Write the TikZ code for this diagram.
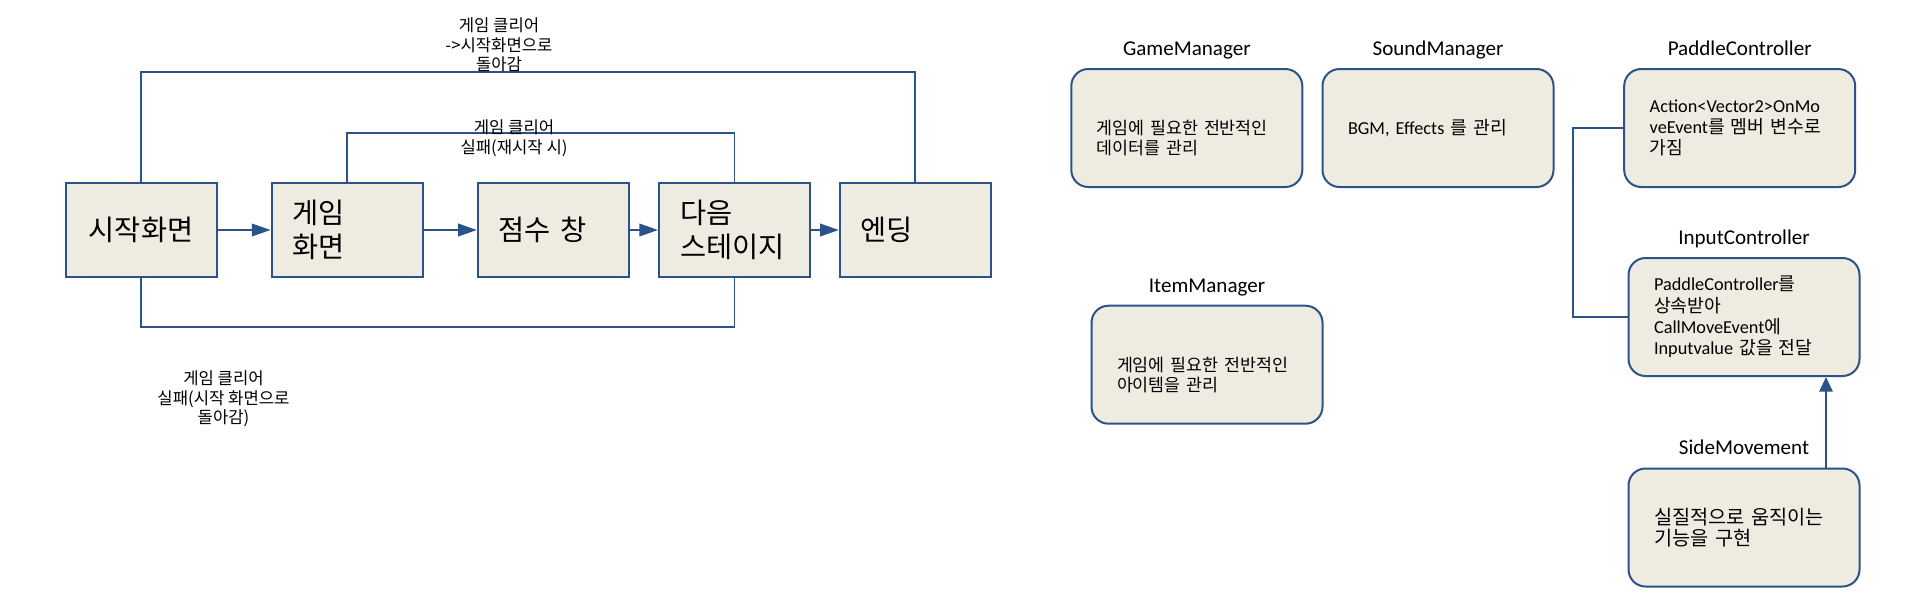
\documentclass[tikz,border=0pt]{standalone}
\usepackage{fontspec}
\setmainfont{Carlito}
\newfontfamily\kr{Noto Sans CJK KR}
\usetikzlibrary{arrows.meta, positioning}
\definecolor{flowblue}{HTML}{2B5289}
\definecolor{flowfill}{HTML}{EEECE1}

\begin{document}
\begin{tikzpicture}[x=0.75pt, y=-0.75pt,
		stage/.style={draw=flowblue, line width=1.5pt, fill=flowfill, inner sep=0pt,
			minimum width=113.25pt, minimum height=70.5pt, text width=81.75pt, align=left,
			font=\kr\fontsize{21.3}{25.5}\selectfont},
		mgr/.style={draw=flowblue, line width=1.5pt, fill=flowfill, rounded corners=12.75pt, inner sep=0pt,
			minimum width=173.25pt, minimum height=88.5pt, text width=135pt, align=left,
			font=\fontsize{13.7}{16}\selectfont},
		mgrtitle/.style={inner sep=0pt, text height=14pt, text depth=4pt, font=\fontsize{15.8}{19}\selectfont},
		note/.style={align=center, inner sep=0pt, font=\kr\fontsize{12.5}{14.7}\selectfont},
		flow/.style={draw=flowblue, line width=1.2pt, -{Triangle[length=14pt, width=9.5pt]}},
		link/.style={draw=flowblue, line width=1.4pt}]
		\useasboundingbox (0,0) rectangle (1920,604);
		% scene flow
		\node[stage, align=center] (start) at (141,230) {시작화면};
		\node[stage] (game) at (347,230) {게임\\화면};
		\node[stage] (score) at (553.3,230) {점수 창};
		\node[stage] (next) at (734.5,230) {다음\\스테이지};
		\node[stage] (ending) at (915.3,230) {엔딩};
		\foreach \a/\b in {start/game, game/score, score/next, next/ending} {
			\draw[flow] (\a) -- (\b);
		}
		% loops back
		\coordinate (outerrail) at (0,71.7);
		\coordinate (innerrail) at (0,133);
		\coordinate (lowerrail) at (0,326.7);
		\draw[link] (start.north) |- (outerrail -| ending) -- (ending.north);
		\draw[link] (game.north) |- (innerrail -| next) -- (next.north);
		\draw[link] (start.south) |- (lowerrail -| next) -- (next.south);
		\node[note] (outernote) at (499,45) {게임 클리어\\->시작화면으로\\돌아감};
		\node[note] (innernote) at (514,138) {게임 클리어\\실패(재시작 시)};
		\node[note] (lowernote) at (223.5,399) {게임 클리어\\실패(시작 화면으로\\돌아감)};
		% managers
		\node[mgr, font=\kr\fontsize{13}{15}\selectfont] (gm) at (1186.8,128) {\rule{0pt}{25.5pt}게임에 필요한 전반적인\\데이터를 관리};
		\node[mgr] (sm) at (1438,128) {BGM, Effects {\kr 를 관리}};
		\node[mgr] (pc) at (1739.7,128) {Action<Vector2>OnMo\\veEvent{\kr 를 멤버 변수로}\\{\kr 가짐}};
		\node[mgr] (ic) at (1744,317) {PaddleController{\kr 를}\\{\kr 상속받아}\\CallMoveEvent{\kr 에}\\Inputvalue {\kr 값을 전달}};
		\node[mgr, font=\kr\fontsize{13}{15}\selectfont] (im) at (1207,364.7) {\rule{0pt}{25.5pt}게임에 필요한 전반적인\\아이템을 관리};
		\node[mgr, font=\kr\fontsize{14.8}{16.2}\selectfont] (sd) at (1744,527.5) {실질적으로 움직이는\\기능을 구현};
		\foreach \n/\t in {gm/GameManager, sm/SoundManager, pc/PaddleController, ic/InputController, im/ItemManager, sd/SideMovement} {
			\node[mgrtitle, above=5.2pt of \n] (\n title) {\t};
		}
		\draw[link, line width=1.5pt] (pc.west) -- ++(-50,0) |- (ic.west);
		\draw[link, -{Triangle[length=11pt, width=10pt]}] ([xshift=61.5pt]sd.north) -- ([xshift=61.5pt]ic.south);
	\end{tikzpicture}
\end{document}
